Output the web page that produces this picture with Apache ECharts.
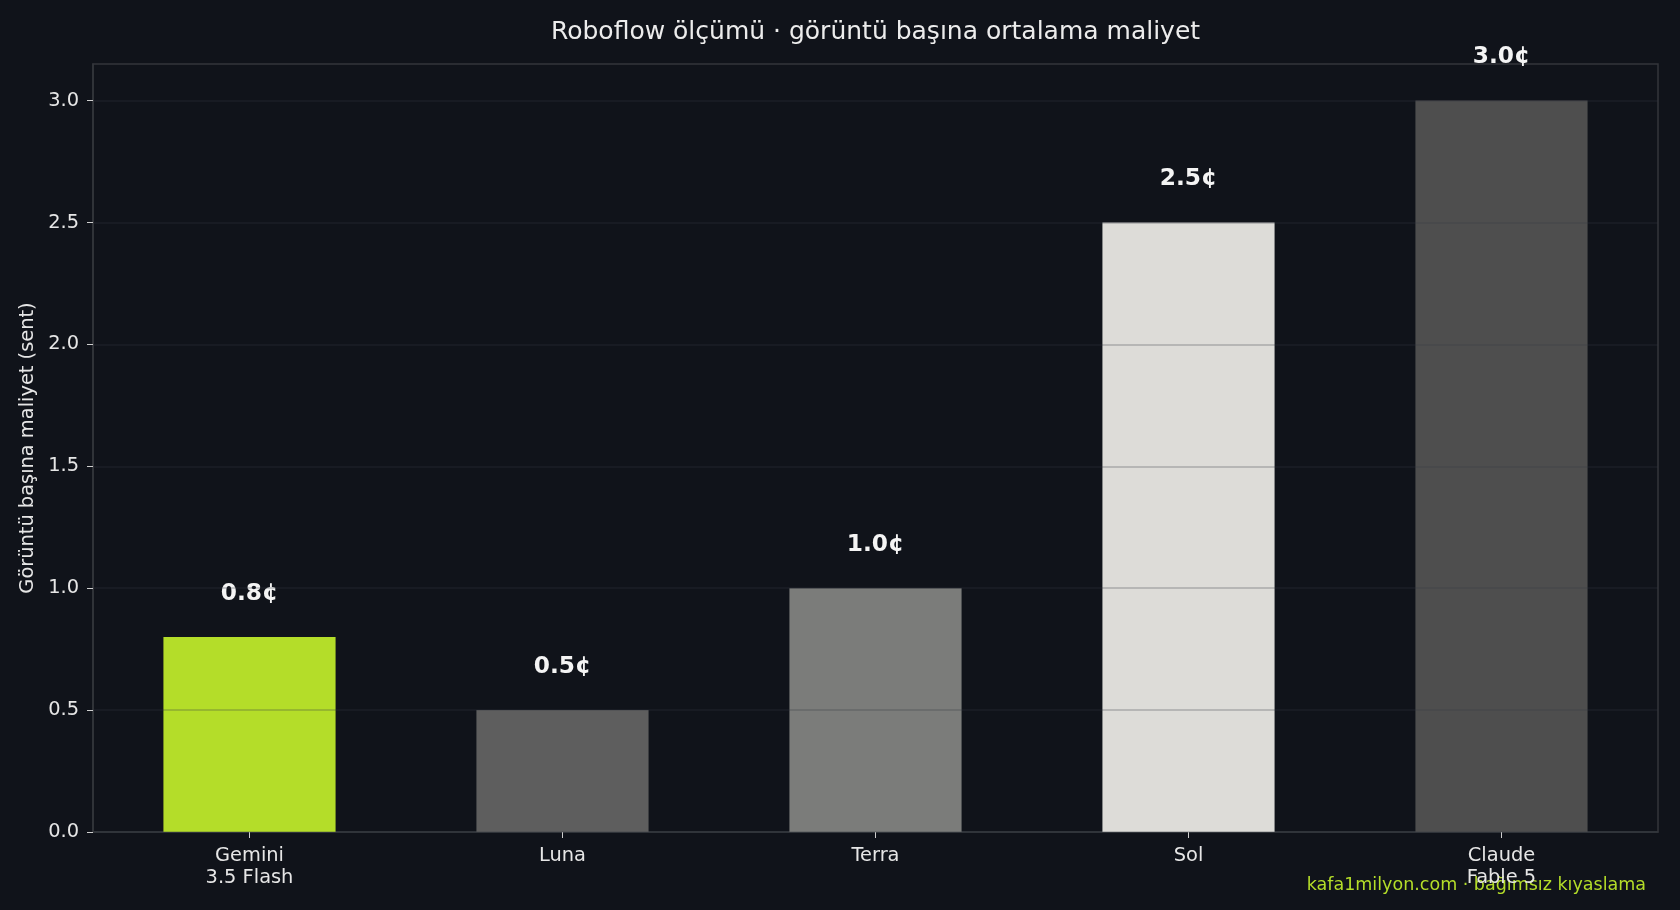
<!DOCTYPE html>
<html>
<head>
<meta charset="utf-8">
<script src="https://cdn.jsdelivr.net/npm/echarts@6/dist/echarts.min.js"></script>
<style>
html,body{margin:0;padding:0;background:#10131a;}
#chart{width:1680px;height:910px;}
</style>
</head>
<body>
<div id="chart"></div>
<script>
const titleText = 'Roboflow ölçümü · görüntü başına ortalama maliyet';
const yAxisName = 'Görüntü başına maliyet (sent)';
const watermark = 'kafa1milyon.com · bağımsız kıyaslama';
const categories = ['Gemini\n3.5 Flash', 'Luna', 'Terra', 'Sol', 'Claude\nFable 5'];
const costs = [0.8, 0.5, 1.0, 2.5, 3.0];
const barColors = ['#b4dd29', '#5e5e5e', '#7b7c7a', '#dddcd8', '#4e4e4e'];
const yTicks = [0, 0.5, 1.0, 1.5, 2.0, 2.5, 3.0];

const FONT = 'DejaVu Sans';
const GRID = {left: 93, right: 22, top: 64, bottom: 78};
const chart = echarts.init(document.getElementById('chart'));
const plotCenterX = GRID.left + (1680 - GRID.left - GRID.right) / 2;
chart.setOption({
  backgroundColor: '#10131a',
  animation: false,
  grid: Object.assign({show: true, borderColor: '#33363b', borderWidth: 1.5, backgroundColor: 'transparent'}, GRID),
  xAxis: {
    type: 'category', data: categories,
    axisLine: {lineStyle: {color: '#33363b', width: 1.5}},
    axisTick: {show: true, alignWithLabel: true, length: 6, lineStyle: {color: '#cfcfcf'}},
    axisLabel: {color: '#e6e6e6', fontFamily: FONT, fontSize: 19.4, margin: 13, lineHeight: 22}
  },
  yAxis: {
    type: 'value', min: 0, max: 3.15, z: 3,
    name: yAxisName, nameLocation: 'middle', nameGap: 52,
    nameTextStyle: {color: '#e6e6e6', fontFamily: FONT, fontSize: 19.4},
    axisLine: {show: true, lineStyle: {color: '#33363b', width: 1.5}},
    axisTick: {show: true, length: 6, customValues: yTicks, lineStyle: {color: '#cfcfcf'}},
    axisLabel: {color: '#e6e6e6', fontFamily: FONT, fontSize: 19.4, margin: 14,
      customValues: yTicks, formatter: v => v.toFixed(1)},
    splitLine: {show: true, lineStyle: {color: 'rgba(54,57,63,0.31)', width: 1.5}}
  },
  series: [{
    type: 'bar', z: 2,
    barWidth: '55%',
    data: costs.map((v, i) => ({value: v, itemStyle: {color: barColors[i]}})),
    label: {show: true, position: 'top', distance: 32, color: '#f4f4f4', fontFamily: FONT,
      fontSize: 23.3, fontWeight: 'bold', formatter: p => p.value.toFixed(1) + '¢'}
  }],
  graphic: [{
    type: 'text', x: plotCenterX, y: 32,
    style: {text: titleText, fill: '#ececec', font: '25px "DejaVu Sans"', textAlign: 'center', textVerticalAlign: 'middle'}
  }, {
    type: 'text', right: 34, top: 876,
    style: {text: watermark, fill: '#b4dd29', font: '17.5px "DejaVu Sans"'}
  }]
});
</script>
</body>
</html>
